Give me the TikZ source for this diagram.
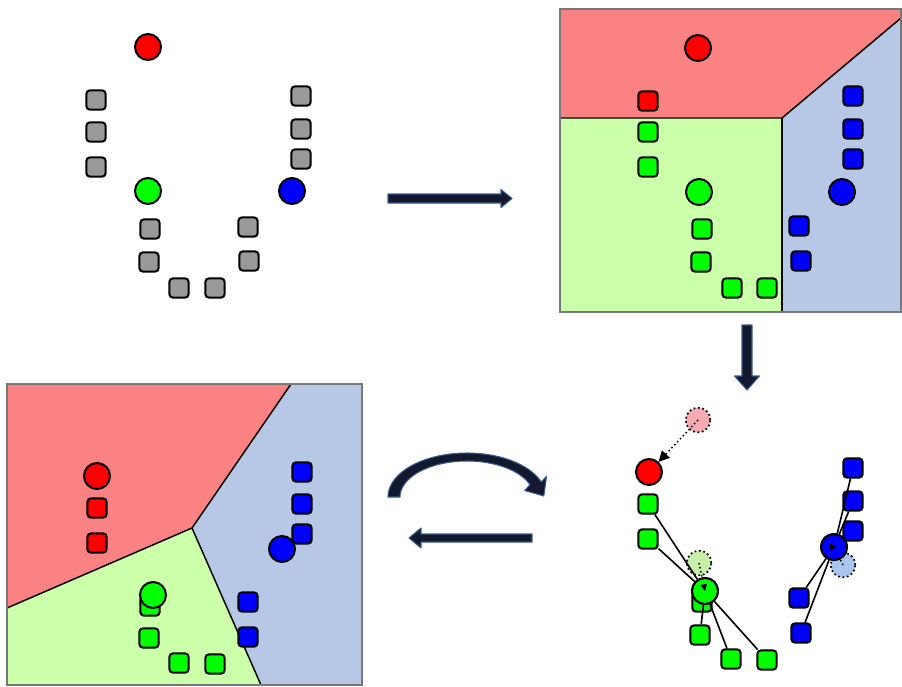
\documentclass[tikz,border=0pt]{standalone}
\usetikzlibrary{arrows.meta,calc}
\definecolor{redreg}{RGB}{250,130,130}
\definecolor{greenreg}{RGB}{204,255,170}
\definecolor{bluereg}{RGB}{182,200,230}
\definecolor{ptred}{RGB}{255,0,0}
\definecolor{ptgreen}{RGB}{0,255,0}
\definecolor{ptblue}{RGB}{0,0,255}
\definecolor{ptgray}{RGB}{153,153,153}
\definecolor{fadered}{RGB}{245,170,180}
\definecolor{fadegreen}{RGB}{200,240,170}
\definecolor{fadeblue}{RGB}{170,196,240}
\definecolor{arrowfill}{RGB}{18,24,45}
\definecolor{arrowline}{RGB}{60,90,140}
\definecolor{panelline}{RGB}{120,120,120}
\tikzset{
  sq/.style={draw=black, line width=1.5pt, rounded corners=2.4pt, minimum size=14.3pt, inner sep=0pt},
  ctr/.style={circle, draw=black, line width=1.5pt, minimum size=19.5pt, inner sep=0pt},
  ghost/.style={circle, draw=black, dotted, line width=1.3pt, minimum size=18.5pt, inner sep=0pt},
  link/.style={draw=black, line width=1.2pt},
  border/.style={draw=black, line width=1.1pt},
  panel/.style={draw=panelline, line width=1pt},
  bigarrow/.style={fill=arrowfill, draw=arrowline, line width=0.8pt, line join=round},
  tinytip/.style={-{Triangle[length=5pt,width=5pt]}, line width=0.6pt}
}
\begin{document}
\begin{tikzpicture}[x=0.75pt,y=-0.75pt]
\useasboundingbox (0,0) rectangle (902,686);

% ---------------- Top-left panel: initial data ----------------
\foreach \n/\x/\y in {1/96/100,2/96/132,3/96/167,4/301/96,5/301/129,6/301/159,
                      7/150/229,8/149/262,9/179/288,10/215/288,11/248/227,12/249/261}
  \node[sq, fill=ptgray] (a-s\n) at (\x,\y) {};
\node[ctr, fill=ptred]   (a-r) at (148,47) {};
\node[ctr, fill=ptgreen] (a-g) at (148,191) {};
\node[ctr, fill=ptblue]  (a-b) at (292,191) {};

% ---------------- Top-right panel: assignment ----------------
\fill[redreg]   (560,9) -- (901,9) -- (901,18) -- (782,118) -- (560,118) -- cycle;
\fill[greenreg] (560,118) -- (782,118) -- (782,312) -- (560,312) -- cycle;
\fill[bluereg]  (782,118) -- (901,18) -- (901,312) -- (782,312) -- cycle;
\draw[border] (560,118) -- (782,118) -- (901,18);
\draw[border] (782,118) -- (782,312);
\draw[panel] (560,9) rectangle (901,312);
\node[sq, fill=ptred] (b-r1) at (648,101) {};
\foreach \n/\x/\y in {1/648/132,2/648/167,3/702/229,4/701/262,5/732/288,6/767/288}
  \node[sq, fill=ptgreen] (b-g\n) at (\x,\y) {};
\foreach \n/\x/\y in {1/853/96,2/853/129,3/853/159,4/799/226,5/801/261}
  \node[sq, fill=ptblue] (b-b\n) at (\x,\y) {};
\node[ctr, fill=ptred]   (b-r) at (698,48) {};
\node[ctr, fill=ptgreen] (b-g) at (699,192) {};
\node[ctr, fill=ptblue]  (b-b) at (842,192) {};

% ---------------- Bottom-right panel: update ----------------
\node[ghost, fill=fadered]   (c-rold) at (698,420) {};
\node[ghost, fill=fadegreen] (c-gold) at (699,563) {};
\node[ghost, fill=fadeblue]  (c-bold) at (843,565) {};
\foreach \n/\x/\y in {1/648/504,2/648/539,3/702/602,4/700/635,5/731/659,6/767/660}
  \node[sq, fill=ptgreen] (c-g\n) at (\x,\y) {};
\foreach \n/\x/\y in {1/853/468,2/853/501,3/853/531,4/799/598,5/801/633}
  \node[sq, fill=ptblue] (c-b\n) at (\x,\y) {};
\coordinate (c-gc) at (705,591);
\coordinate (c-bc) at (834,547);
\node[ctr, fill=ptred] (c-r) at (649,472) {};
\node[ctr] (c-gtmp) at (c-gc) {};
\node[ctr] (c-btmp) at (c-bc) {};
\foreach \n in {1,2,4,5,6} \draw[link] (c-g\n) -- (c-gtmp);
\foreach \n in {1,2,3,4,5} \draw[link] (c-b\n) -- (c-btmp);
\draw[dotted, line width=1.1pt] (c-gold.center) -- (c-gtmp);
\draw[dotted, line width=1.1pt] (c-bold.center) -- (c-btmp);
\node[ctr, fill=ptgreen] (c-g) at (c-gc) {};
\node[ctr, fill=ptblue]  (c-b) at (c-bc) {};
\draw[dotted, line width=1.1pt, -{Triangle[length=8pt,width=8pt]}] (c-rold.center) -- (c-r);
\draw[tinytip] ($(c-gold.center)!0.88!(c-g.center)$) -- (c-g.center);
\draw[tinytip] ([xshift=-3pt]c-b.center) -- ([xshift=2pt]c-b.center);

% ---------------- Bottom-left panel: new assignment ----------------
\fill[redreg]   (7,384) -- (291,384) -- (192,528) -- (7,608) -- cycle;
\fill[bluereg]  (291,384) -- (362,384) -- (362,685) -- (261,685) -- (192,528) -- cycle;
\fill[greenreg] (192,528) -- (7,608) -- (7,685) -- (261,685) -- cycle;
\draw[border] (291,384) -- (192,528) -- (7,608);
\draw[border] (192,528) -- (261,685);
\draw[panel] (7,384) rectangle (362,685);
\foreach \n/\x/\y in {1/97/508,2/97/543}
  \node[sq, fill=ptred] (d-r\n) at (\x,\y) {};
\foreach \n/\x/\y in {1/150/606,2/149/638,3/179/663,4/215/664}
  \node[sq, fill=ptgreen] (d-g\n) at (\x,\y) {};
\foreach \n/\x/\y in {1/302/472,2/302/504,3/302/534,4/248/602,5/248/637}
  \node[sq, fill=ptblue] (d-b\n) at (\x,\y) {};
\node[ctr, fill=ptred]   (d-r) at (97,476) {};
\node[ctr, fill=ptgreen] (d-g) at (153,595) {};
\node[ctr, fill=ptblue]  (d-b) at (282,549) {};

% ---------------- Block arrows ----------------
% right arrow (top)
\path[bigarrow] (388,194) -- (501,194) -- (501,189.5) -- (512,198.5) -- (501,207.5) -- (501,203) -- (388,203) -- cycle;
% down arrow
\path[bigarrow] (742,325) -- (752,325) -- (752,376) -- (759.5,376) -- (747,390) -- (734.5,376) -- (742,376) -- cycle;
% left arrow (bottom)
\path[bigarrow] (532,534) -- (421,534) -- (421,528) -- (409,538) -- (421,548) -- (421,542) -- (532,542) -- cycle;
% curved arrow
\path[bigarrow] (388,497)
  -- plot[domain=180:340, samples=50] ({467+79*cos(\x)},{497+44*sin(\x)})
  -- (546.5,476.3) -- (543.8,496) -- (524.7,490.5)
  -- plot[domain=340:180, samples=50] ({467+67*cos(\x)},{497+36*sin(\x)})
  -- cycle;
\end{tikzpicture}
\end{document}
